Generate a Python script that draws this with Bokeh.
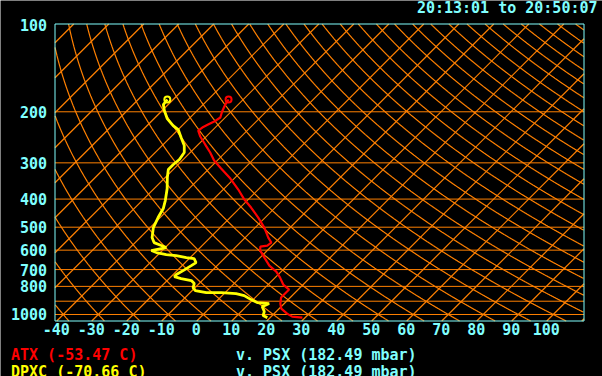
import numpy as np
from bokeh.plotting import figure
from bokeh.models import FixedTicker, PrintfTickFormatter, Label
from bokeh.embed import file_html
from bokeh.resources import INLINE

# ---- data ----
# ATX temperature profile (pressure mbar, temperature C)
atx_p = [181.4, 188.8, 199.6, 209.3, 216.1, 221.3, 226.6, 232.1, 243.4, 259.4,
         276.4, 294.5, 313.9, 339.8, 370.8, 401.5, 427.8, 463.2, 501.5, 543.0,
         565.0, 578.5, 583.2, 602.0, 636.4, 678.2, 711.3, 746.0, 788.6, 820.6,
         847.1, 874.4, 917.1, 954.2, 993.0, 1016.9, 1025.0]
atx_t = [-54.2, -53.7, -52.6, -51.4, -52.0, -52.9, -53.7, -54.0, -51.7, -48.0,
         -44.3, -40.9, -36.6, -31.1, -25.7, -21.1, -16.9, -12.0, -7.4, -3.4,
         -1.1, -1.4, -3.1, -2.0, 1.2, 4.9, 8.6, 11.4, 14.3, 17.4,
         17.4, 17.4, 18.9, 20.6, 23.7, 26.0, 29.2]

# DPXC dew point profile (pressure mbar, dew point C)
dpxc_p = [181.4, 188.8, 198.0, 211.0, 223.1, 230.3, 245.3, 261.5, 276.4, 292.2,
          304.0, 316.4, 337.1, 367.9, 404.7, 431.2, 463.2, 501.5, 543.0, 565.0,
          578.5, 587.8, 597.2, 602.0, 611.6, 621.4, 626.4, 636.4, 641.5, 662.2,
          678.2, 705.7, 728.4, 740.1, 751.9, 764.0, 782.4, 807.7, 827.1, 840.4,
          840.4, 847.1, 860.6, 888.6, 910.0, 917.1, 939.3, 977.2, 1008.9, 1025.1]
dpxc_t = [-71.7, -71.4, -69.4, -66.3, -62.6, -60.0, -56.9, -53.7, -51.7, -51.1,
          -51.4, -51.4, -49.4, -46.3, -43.4, -41.7, -40.6, -39.1, -36.6, -34.6,
          -31.7, -29.7, -32.0, -33.1, -31.1, -27.7, -24.6, -21.1, -18.6, -16.9,
          -17.4, -18.3, -19.1, -19.1, -16.6, -13.1, -11.4, -10.6, -9.1, -5.4,
          -1.1, 3.4, 6.3, 9.4, 12.0, 15.7, 14.6, 16.6, 17.4, 19.2]

p_levels = [200, 300, 400, 500, 600, 700, 800, 900, 1000]
y_ticks = [100, 200, 300, 400, 500, 600, 700, 800, 1000]
x_ticks = [-40, -30, -20, -10, 0, 10, 20, 30, 40, 50, 60, 70, 80, 90, 100]
isotherms = list(range(-170, 121, 10))
adiabats = list(range(-50, 331, 10))  # potential temperature, C at 1000 mbar

title_text = "20:13:01 to 20:50:07"
atx_label = "ATX (-53.47 C)"
dpxc_label = "DPXC (-70.66 C)"
psx_label = "v. PSX (182.49 mbar)"

# ---- geometry / styling ----
W, H = 602, 376
PX_PER_C = 3.5          # horizontal pixels per degree
PX_PER_LN = 125.94      # vertical pixels per ln(p)
X0_PX, P100_PY = 55.8, 24.0   # pixel of x=-40 and of p=100


def px_to_x(px):
    return -40 + (px - X0_PX) / PX_PER_C


def py_to_p(py):
    return 100 * np.exp((py - P100_PY) / PX_PER_LN)


P_REF = 1057.0                  # pressure where skewed x equals temperature
SKEW = PX_PER_LN / PX_PER_C     # 45 degree isotherms
X_MIN, X_MAX = px_to_x(54.5), px_to_x(583.5)
P_TOP, P_BOT = py_to_p(23.5), py_to_p(320.5)

CYAN = "#80ffff"
ORANGE = "#ff8000"
FONT = "DejaVu Sans Mono"


def skew_x(t, p):
    return np.asarray(t, dtype=float) + SKEW * np.log(P_REF / np.asarray(p, dtype=float))


p = figure(width=W, height=H, x_range=(px_to_x(0), px_to_x(W)), y_range=(py_to_p(H), py_to_p(0)),
           y_axis_type="log", output_backend="svg", toolbar_location=None,
           min_border_left=0, min_border_right=0, min_border_top=0, min_border_bottom=0,
           background_fill_color="black", border_fill_color="black", outline_line_color=None,
           styles={"position": "absolute", "top": "0px", "left": "0px"})
p.xgrid.visible = False
p.ygrid.visible = False

# axes drawn along the diagram's bottom and left edges
p.xaxis.fixed_location = P_BOT
p.yaxis.fixed_location = X_MIN
for ax in (p.xaxis[0], p.yaxis[0]):
    ax.axis_line_color = None
    ax.major_tick_line_color = None
    ax.minor_tick_line_color = None
    ax.major_tick_out = 0
    ax.major_tick_in = 0
    ax.major_label_text_color = CYAN
    ax.major_label_text_font = FONT
    ax.major_label_text_font_style = "bold"
    ax.major_label_text_font_size = "15px"
    ax.formatter = PrintfTickFormatter(format="%d")
p.xaxis.ticker = FixedTicker(ticks=x_ticks)
p.xaxis.major_label_standoff = 2
p.yaxis.ticker = FixedTicker(ticks=y_ticks)
p.yaxis.major_label_standoff = 8

# pressure lines
p.segment(x0=X_MIN, x1=X_MAX, y0=p_levels, y1=p_levels, line_color=ORANGE, line_width=1)

# isotherms, clipped to the diagram box
u_top, u_bot = np.log(P_REF / P_TOP), np.log(P_REF / P_BOT)
iso_xs, iso_ys = [], []
for t in isotherms:
    lo = max(u_bot, (X_MIN - t) / SKEW)
    hi = min(u_top, (X_MAX - t) / SKEW)
    if lo < hi:
        iso_xs.append([t + SKEW * lo, t + SKEW * hi])
        iso_ys.append([P_REF * np.exp(-lo), P_REF * np.exp(-hi)])
p.multi_line(iso_xs, iso_ys, line_color=ORANGE, line_width=1.2)

# dry adiabats, clipped to the diagram box
pp = np.geomspace(P_TOP, P_BOT, 900)
ad_xs, ad_ys = [], []
for th in adiabats:
    tc = (th + 273.15) * (pp / 1000.0) ** 0.2857 - 273.15
    xx = skew_x(tc, pp)
    m = (xx >= X_MIN) & (xx <= X_MAX)
    if m.sum() > 1:
        ad_xs.append(list(xx[m]))
        ad_ys.append(list(pp[m]))
p.multi_line(ad_xs, ad_ys, line_color=ORANGE, line_width=1.2)

# diagram border
p.quad(left=[X_MIN], right=[X_MAX], bottom=[P_BOT], top=[P_TOP],
       fill_color=None, line_color=CYAN, line_width=1)

# profiles
p.line(skew_x(dpxc_t, dpxc_p), dpxc_p, line_color="#ffff00", line_width=2.8)
p.line(skew_x(atx_t, atx_p), atx_p, line_color="#ff0000", line_width=2.2)
p.scatter(skew_x(dpxc_t[:1], dpxc_p[:1]), dpxc_p[:1], marker="circle", size=6,
          fill_color=None, line_color="#ffff00", line_width=2)
p.scatter(skew_x(atx_t[:1], atx_p[:1]), atx_p[:1], marker="circle", size=6,
          fill_color=None, line_color="#ff0000", line_width=2)

# texts
common = dict(text_font=FONT, text_font_style="bold", text_font_size="15px",
              text_baseline="alphabetic")
p.add_layout(Label(x=px_to_x(597), y=py_to_p(7.5), text=title_text, text_align="right",
                   text_color=CYAN, **common))
p.add_layout(Label(x=px_to_x(10.5), y=py_to_p(354.5), text=atx_label, text_align="left",
                   text_color="#ff0000", **common))
p.add_layout(Label(x=px_to_x(235.5), y=py_to_p(354.5), text=psx_label, text_align="left",
                   text_color=CYAN, **common))
p.add_layout(Label(x=px_to_x(10.5), y=py_to_p(371.5), text=dpxc_label, text_align="left",
                   text_color="#ffff00", **common))
p.add_layout(Label(x=px_to_x(235.5), y=py_to_p(371.5), text=psx_label, text_align="left",
                   text_color=CYAN, **common))

open("out.html", "w").write(file_html(p, INLINE))
